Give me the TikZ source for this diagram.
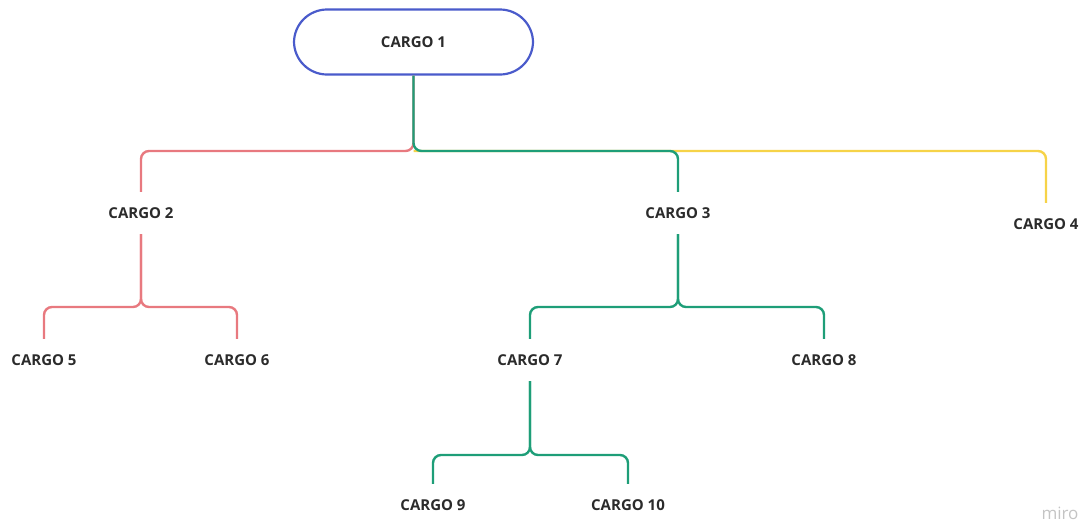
\documentclass[tikz,border=0pt]{standalone}
\usepackage{fontspec}
\setmainfont{Open Sans}
\definecolor{rootblue}{HTML}{4A5BCB}
\definecolor{linered}{HTML}{E8797F}
\definecolor{linegreen}{HTML}{1E9E78}
\definecolor{lineyellow}{HTML}{F6D348}
\definecolor{labeltext}{HTML}{2B2B2B}
\definecolor{markgray}{HTML}{C4C4C4}
\tikzset{
  rootbox/.style={draw=rootblue, line width=2.2pt, rounded corners=33pt,
    minimum width=239pt, minimum height=65pt, inner sep=0pt,
    font=\fontsize{15}{17}\selectfont\bfseries, text=labeltext},
  rolelabel/.style={minimum height=42pt, inner sep=0pt,
    font=\fontsize{15}{17}\selectfont\bfseries, text=labeltext},
  branch/.style={line width=2.4pt, rounded corners=8pt},
}
\begin{document}
\begin{tikzpicture}[x=1pt,y=-1pt]
\useasboundingbox (0,0) rectangle (1091,523);

% boxes and labels
\node[rootbox]   (c1)  at (413.5,42)  {CARGO 1};
\node[rolelabel] (c2)  at (141,213)   {CARGO 2};
\node[rolelabel] (c3)  at (678,213)   {CARGO 3};
\node[rolelabel] (c4)  at (1046,224)  {CARGO 4};
\node[rolelabel] (c5)  at (44,360)    {CARGO 5};
\node[rolelabel] (c6)  at (237,360)   {CARGO 6};
\node[rolelabel] (c7)  at (530,360)   {CARGO 7};
\node[rolelabel] (c8)  at (824,360)   {CARGO 8};
\node[rolelabel] (c9)  at (433,505)   {CARGO 9};
\node[rolelabel] (c10) at (628,505)   {CARGO 10};

% split points of each level
\coordinate (bar1) at (413.5,151);
\coordinate (bar2) at (141,307);
\coordinate (bar3) at (678,307);
\coordinate (bar7) at (530,455);

% first level
\draw[branch, lineyellow] (bar1) -- (c3.north |- bar1) -| (c4.north);
\draw[branch, linered]    (c1.south) -- (bar1) -| (c2.north);
\draw[branch, linegreen]  (c1.south) -- (bar1) -| (c3.north);

% under CARGO 2
\draw[branch, linered] (c2.south) -- (bar2) -| (c5.north);
\draw[branch, linered] (c2.south) -- (bar2) -| (c6.north);

% under CARGO 3
\draw[branch, linegreen] (c3.south) -- (bar3) -| (c7.north);
\draw[branch, linegreen] (c3.south) -- (bar3) -| (c8.north);

% under CARGO 7
\draw[branch, linegreen] (c7.south) -- (bar7) -| (c9.north);
\draw[branch, linegreen] (c7.south) -- (bar7) -| (c10.north);

% corner mark
\node[text=markgray, font=\fontsize{17}{19}\selectfont, inner sep=0pt] (mark) at (1060,513) {miro};
\end{tikzpicture}
\end{document}
